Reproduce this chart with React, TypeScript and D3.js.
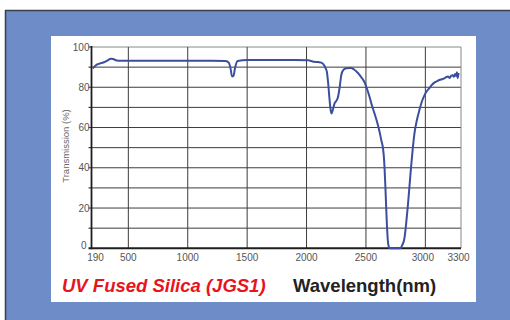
import React from "react";
import * as d3 from "d3";

// transmission curve (wavelength nm, transmission %)
const wavelengths = [
  200, 234, 270, 303, 330, 350, 373, 395, 415, 600, 900, 1200, 1320, 1345, 1360, 1373, 1385,
  1398, 1420, 1500, 1700, 1900, 2012, 2060, 2100, 2124, 2145, 2160, 2171, 2182, 2194, 2202, 2210,
  2220, 2236, 2250, 2264, 2280, 2292, 2310, 2334, 2360, 2376, 2400, 2420, 2446, 2470, 2488, 2510,
  2530, 2550, 2572, 2595, 2614, 2630, 2642, 2650, 2656, 2664, 2670, 2677, 2684, 2692, 2700, 2750,
  2790, 2805, 2824, 2838, 2852, 2866, 2880, 2894, 2908, 2930, 2950, 2970, 2992, 3012, 3034, 3055,
  3076, 3098, 3118, 3140, 3160, 3174, 3190, 3205, 3218, 3230, 3240, 3250, 3258, 3266, 3272, 3280,
];
const transmission = [
  89.4, 91.2, 92.0, 92.6, 93.5, 94.2, 94.0, 93.4, 93.2, 93.2, 93.2, 93.2, 93.1, 92.2, 89.5, 85.4,
  85.6, 89.5, 93.0, 93.5, 93.5, 93.5, 93.4, 92.7, 92.5, 92.2, 91.2, 89.5, 87.7, 82.0, 73.7, 69.0,
  67.0, 68.5, 72.0, 73.2, 75.0, 80.5, 86.0, 88.6, 89.4, 89.6, 89.6, 88.8, 87.8, 86.2, 84.2, 82.5,
  79.0, 75.3, 71.0, 67.0, 62.5, 58.0, 53.5, 50.2, 46.0, 40.6, 30.0, 20.7, 11.0, 4.0, 0.8, 0, 0,
  0, 1.5, 5.0, 12.0, 20.7, 30.5, 40.6, 49.5, 57.0, 64.0, 68.7, 72.8, 76.0, 78.0, 79.6, 81.2, 82.3,
  83.0, 83.6, 84.0, 84.4, 85.0, 85.4, 84.6, 85.8, 86.0, 85.2, 86.6, 85.6, 87.4, 84.6, 87.2, 85.3,
];

const xTicks = [190, 500, 1000, 1500, 2000, 2500, 3000, 3300];
const yTicks = [0, 20, 40, 60, 80, 100];
const yGrid = [10, 20, 30, 40, 50, 60, 70, 80, 90, 100];

const title = "UV Fused Silica (JGS1)";
const xTitle = "Wavelength(nm)";
const yTitle = "Transmission (%)";

export default function App() {
  const x = d3.scaleLinear().domain([190, 3300]).range([91.5, 461]);
  const y = d3.scaleLinear().domain([0, 100]).range([248.3, 47]);

  const points = wavelengths.map((w, i) => [w, transmission[i]] as [number, number]);
  const line = d3
    .line<[number, number]>()
    .x((d) => x(d[0]))
    .y((d) => y(d[1]))
    .curve(d3.curveMonotoneX);

  const font = "'Liberation Sans', Arial, sans-serif";

  return (
    <svg
      width={510}
      height={320}
      style={{ position: "absolute", left: 0, top: 0 }}
      fontFamily={font}
    >
      <rect x={0} y={0} width={510} height={320} fill="#ffffff" />
      <rect x={5} y={10} width={505} height={310} fill="#6e8cc8" />
      <line x1={5} y1={10.5} x2={510} y2={10.5} stroke="#3a3f4a" strokeWidth={1.5} />
      <line x1={5.5} y1={10} x2={5.5} y2={320} stroke="#3a3f4a" strokeWidth={1.5} />
      <rect x={51} y={36} width={425} height={266} fill="#ffffff" />

      {/* grid */}
      {yGrid.map((v) => (
        <line
          key={"h" + v}
          x1={x(190)}
          x2={x(3300)}
          y1={y(v)}
          y2={y(v)}
          stroke={v === 100 ? "#888" : "#3c3c3c"}
          strokeWidth={1}
        />
      ))}
      {xTicks.slice(1).map((v) => (
        <line
          key={"v" + v}
          x1={x(v)}
          x2={x(v)}
          y1={y(100)}
          y2={y(0)}
          stroke={v === 3300 ? "#888" : "#3c3c3c"}
          strokeWidth={1}
        />
      ))}

      {/* axes */}
      <line x1={x(190)} x2={x(190)} y1={y(100) - 1} y2={y(0) + 1} stroke="#1e1e1e" strokeWidth={1.8} />
      <line x1={x(190) - 3} x2={x(3300)} y1={y(0)} y2={y(0)} stroke="#1e1e1e" strokeWidth={2} />
      {yGrid.map((v) => (
        <line key={"t" + v} x1={x(190) - 3} x2={x(190)} y1={y(v)} y2={y(v)} stroke="#1e1e1e" strokeWidth={1} />
      ))}

      {yTicks.map((v) => (
        <text
          key={"yl" + v}
          x={x(190) - (v === 0 ? 5 : 2)}
          y={y(v) - (v === 0 ? 3 : 0)}
          dy="0.35em"
          textAnchor="end"
          fontSize={10}
          fill="#555"
        >
          {v}
        </text>
      ))}
      {xTicks.map((v, i) => (
        <text
          key={"xl" + v}
          x={x(v) + (i === 0 ? 4 : i >= 6 ? -2.5 : 0)}
          y={261}
          textAnchor="middle"
          fontSize={10}
          fill="#555"
        >
          {v}
        </text>
      ))}
      <text
        transform={`translate(69,146) rotate(-90)`}
        textAnchor="middle"
        fontSize={9.5}
        fill="#666"
      >
        {yTitle}
      </text>

      <path d={line(points) ?? ""} fill="none" stroke="#3b4f9e" strokeWidth={2} strokeLinejoin="round" />

      <text x={62} y={292} fontSize={18.5} fontWeight="bold" fontStyle="italic" fill="#e8141c">
        {title}
      </text>
      <text x={293} y={292} fontSize={18.5} fontWeight="bold" fill="#222">
        {xTitle}
      </text>
    </svg>
  );
}
